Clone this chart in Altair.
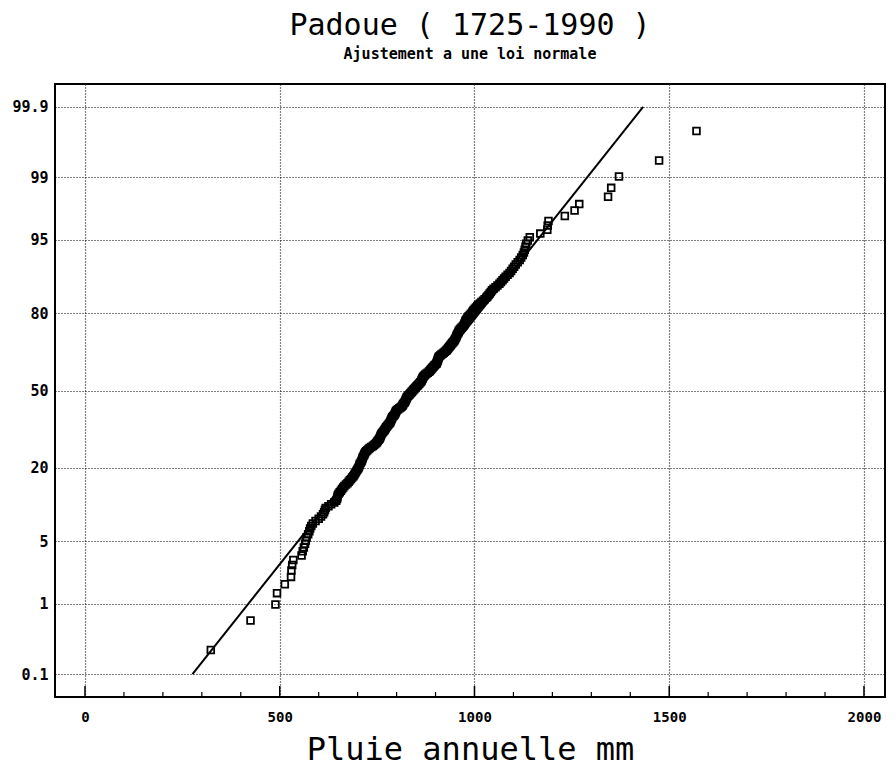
import altair as alt
import pandas as pd
from statistics import NormalDist

nd = NormalDist()

# Annual rainfall at Padova (mm), sorted
rain_mm = [
    323, 425, 489, 493, 513, 529, 530, 532, 535, 556,
    559, 562, 565, 567, 569, 573, 576, 578, 581, 585,
    592, 600, 606, 611, 614, 616, 618, 625, 632, 640,
    645, 647, 648, 649, 651, 654, 657, 660, 663, 666,
    670, 674, 677, 680, 683, 686, 689, 691, 693, 695,
    697, 699, 701, 703, 704, 705, 706, 708, 710, 711,
    712, 713, 714, 716, 717, 718, 720, 722, 725, 728,
    731, 735, 739, 742, 745, 748, 750, 752, 754, 756,
    757, 758, 759, 760, 761, 763, 765, 767, 769, 770,
    772, 773, 775, 777, 779, 781, 783, 784, 785, 786,
    787, 788, 789, 791, 793, 795, 796, 797, 798, 799,
    801, 804, 807, 810, 813, 815, 816, 817, 819, 821,
    822, 823, 824, 825, 826, 827, 829, 831, 833, 835,
    837, 839, 841, 843, 845, 847, 849, 851, 853, 855,
    857, 859, 861, 863, 864, 865, 866, 867, 868, 870,
    872, 874, 877, 880, 883, 885, 887, 889, 891, 893,
    895, 897, 899, 902, 903, 904, 905, 906, 906, 907,
    908, 909, 912, 915, 918, 921, 924, 927, 929, 931,
    933, 935, 937, 939, 941, 943, 945, 947, 949, 950,
    952, 953, 954, 955, 956, 958, 959, 960, 962, 964,
    967, 970, 972, 974, 975, 976, 977, 979, 981, 983,
    985, 988, 991, 994, 996, 998, 1001, 1004, 1007, 1010,
    1014, 1018, 1022, 1026, 1030, 1033, 1036, 1039, 1042, 1045,
    1049, 1054, 1059, 1064, 1068, 1072, 1076, 1080, 1085, 1090,
    1094, 1098, 1102, 1106, 1111, 1116, 1120, 1124, 1127, 1129,
    1131, 1133, 1137, 1142, 1169, 1187, 1188, 1190, 1232, 1257,
    1269, 1343, 1351, 1371, 1474, 1570,
]

# Fitted normal law, drawn from 0.1 % to 99.9 %
fit_mm = [276, 1433]
fit_prob = [0.1, 99.9]

prob_ticks = [0.1, 1, 5, 20, 50, 80, 95, 99, 99.9]
prob_labels = ["0.1", "1", "5", "20", "50", "80", "95", "99", "99.9"]
x_major = [0, 500, 1000, 1500, 2000]
x_minor = [v for v in range(0, 2001, 100) if v % 500 != 0]

n = len(rain_mm)
pts = pd.DataFrame({
    "pluie": sorted(rain_mm),
    "z": [nd.inv_cdf((i - 0.375) / (n + 0.25)) for i in range(1, n + 1)],
})
fit = pd.DataFrame({"pluie": fit_mm, "z": [nd.inv_cdf(p / 100) for p in fit_prob]})
z_ticks = [nd.inv_cdf(p / 100) for p in prob_ticks]

expr = "''"
for zt, lab in reversed(list(zip(z_ticks, prob_labels))):
    expr = f"abs(datum.value - ({zt:.5f})) < 0.01 ? '{lab}' : ({expr})"

FONT = "DejaVu Sans Mono"
W, H = 830, 613
xscale = alt.Scale(domain=[-77, 2054], nice=False, zero=False)
yscale = alt.Scale(domain=[-3.34, 3.34], nice=False, zero=False)

xaxis = alt.Axis(
    values=x_major, format="d", grid=True, gridDash=[1, 2], gridColor="black",
    gridWidth=1.2, gridOpacity=1, ticks=False, domain=False, labelFont=FONT,
    labelFontWeight="bold", labelFontSize=14, labelColor="black", labelPadding=13,
    title="Pluie annuelle mm", titleFont=FONT, titleFontSize=32,
    titleFontWeight="normal", titleColor="black", titlePadding=10,
)
yaxis = alt.Axis(
    values=z_ticks, labelExpr=expr, grid=True, gridDash=[1, 2], gridColor="black",
    gridWidth=1.2, gridOpacity=1, ticks=False, domain=False, labelFont=FONT,
    labelFontWeight="bold", labelFontSize=15, labelColor="black", labelPadding=7,
    title=None,
)

points = alt.Chart(pts).mark_point(
    shape="square", filled=False, size=45, strokeWidth=1.8, color="black", opacity=1
).encode(
    x=alt.X("pluie:Q", scale=xscale, axis=xaxis),
    y=alt.Y("z:Q", scale=yscale, axis=yaxis),
)

line = alt.Chart(fit).mark_line(color="black", strokeWidth=2).encode(
    x=alt.X("pluie:Q", scale=xscale), y=alt.Y("z:Q", scale=yscale)
)

major = alt.Chart(pd.DataFrame({"pluie": x_major})).mark_rule(
    color="black", strokeWidth=1.5
).encode(x=alt.X("pluie:Q", scale=xscale), y=alt.value(H), y2=alt.value(H - 11))

minor = alt.Chart(pd.DataFrame({"pluie": x_minor})).mark_rule(
    color="black", strokeWidth=1.2
).encode(x=alt.X("pluie:Q", scale=xscale), y=alt.value(H), y2=alt.value(H - 5))

chart = alt.layer(points, line, major, minor).properties(
    width=W, height=H,
    autosize=alt.AutoSizeParams(type="none"),
    padding={"left": 47, "top": 76, "right": 3, "bottom": 69},
    title=alt.Title(
        "Padoue ( 1725-1990 )", subtitle="Ajustement a une loi normale",
        font=FONT, fontSize=30, fontWeight="normal", color="black",
        subtitleFont=FONT, subtitleFontSize=15, subtitleFontWeight="bold",
        subtitleColor="black", subtitlePadding=6, offset=22, anchor="middle",
    ),
).configure_view(stroke="black", strokeWidth=2)

chart.save("out.html", embed_options={"renderer": "svg", "actions": False})
